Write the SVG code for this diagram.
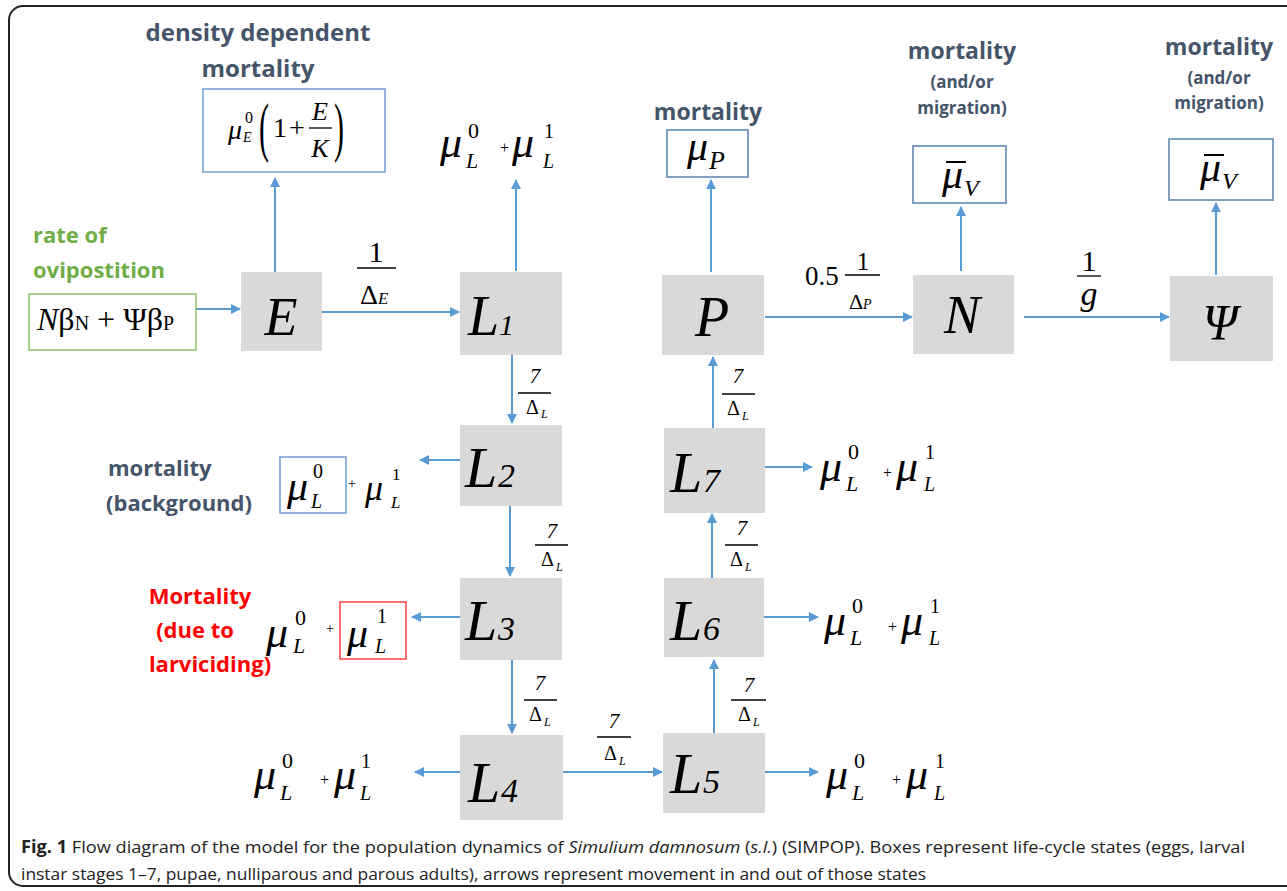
<svg xmlns="http://www.w3.org/2000/svg" width="1287" height="891" viewBox="0 0 1287 891">
<defs>
<marker id="ah" markerWidth="10" markerHeight="10" refX="9" refY="5" orient="auto" markerUnits="userSpaceOnUse">
<path d="M0,0 L10,5 L0,10 Z" fill="#5b9bd5"/>
</marker>
<style>
.box{fill:#d9d9d9}
.conn line{stroke:#5b9bd5;stroke-width:2;marker-end:url(#ah)}
.m{font-family:"Liberation Serif","Times New Roman",serif;fill:#000}
.i{font-style:italic}
.lbl{font-family:"Open Sans","Noto Sans",sans-serif;font-weight:bold;fill:#44546a}
.frac{stroke:#000;stroke-width:1.3}
.bb{fill:#fff;stroke:#7f9fc4;stroke-width:2}
</style>
</defs>
<rect width="1287" height="891" fill="#fff"/>
<rect x="9" y="6" width="1310" height="880" rx="14" fill="none" stroke="#222" stroke-width="2"/>

<!-- connectors -->
<g id="connectors" class="conn">
<line x1="196" y1="309" x2="240" y2="309"/>
<line x1="322" y1="312" x2="459" y2="312"/>
<line x1="275" y1="272" x2="275" y2="178"/>
<line x1="516" y1="271" x2="516" y2="180"/>
<line x1="512" y1="355" x2="512" y2="423"/>
<line x1="460" y1="460" x2="420" y2="460"/>
<line x1="510" y1="506" x2="510" y2="576"/>
<line x1="460" y1="617" x2="412" y2="617"/>
<line x1="512" y1="660" x2="512" y2="733"/>
<line x1="460" y1="772" x2="415" y2="772"/>
<line x1="563" y1="772" x2="662" y2="772"/>
<line x1="714" y1="733" x2="714" y2="660"/>
<line x1="765" y1="772" x2="818" y2="772"/>
<line x1="712" y1="578" x2="712" y2="514"/>
<line x1="764" y1="617" x2="818" y2="617"/>
<line x1="765" y1="467" x2="812" y2="467"/>
<line x1="713" y1="428" x2="713" y2="357"/>
<line x1="711" y1="272" x2="711" y2="180"/>
<line x1="765" y1="317" x2="912" y2="317"/>
<line x1="961" y1="271" x2="961" y2="207"/>
<line x1="1024" y1="317" x2="1169" y2="317"/>
<line x1="1216" y1="275" x2="1216" y2="203"/>
</g>

<!-- connector labels -->
<g id="labels">
<g id="lbl-E-L1">
<text class="m" x="376" y="262" font-size="30" text-anchor="middle">1</text>
<line class="frac" x1="357" y1="268" x2="396" y2="268"/>
<text class="m" x="360" y="304" font-size="28">Δ</text>
<text class="m i" x="378" y="304" font-size="17">E</text>
</g>
<g id="lbl-L1-L2">
<text class="m i" x="535" y="383" font-size="21" text-anchor="middle">7</text>
<line class="frac" x1="518" y1="393" x2="551" y2="393"/>
<text class="m" x="526" y="414" font-size="20">Δ</text>
<text class="m i" x="541" y="418" font-size="12">L</text>
</g>
<g id="lbl-L2-L3">
<text class="m i" x="552" y="538" font-size="21" text-anchor="middle">7</text>
<line class="frac" x1="535" y1="545" x2="568" y2="545"/>
<text class="m" x="541" y="566" font-size="20">Δ</text>
<text class="m i" x="556" y="571" font-size="12">L</text>
</g>
<g id="lbl-L3-L4">
<text class="m i" x="540" y="690" font-size="21" text-anchor="middle">7</text>
<line class="frac" x1="524" y1="700" x2="557" y2="700"/>
<text class="m" x="529" y="721" font-size="20">Δ</text>
<text class="m i" x="544" y="726" font-size="12">L</text>
</g>
<g id="lbl-L4-L5">
<text class="m i" x="614" y="728" font-size="21" text-anchor="middle">7</text>
<line class="frac" x1="597" y1="737" x2="631" y2="737"/>
<text class="m" x="604" y="760" font-size="20">Δ</text>
<text class="m i" x="619" y="765" font-size="12">L</text>
</g>
<g id="lbl-L5-L6">
<text class="m i" x="749" y="692" font-size="21" text-anchor="middle">7</text>
<line class="frac" x1="731" y1="700" x2="766" y2="700"/>
<text class="m" x="738" y="721" font-size="20">Δ</text>
<text class="m i" x="753" y="726" font-size="12">L</text>
</g>
<g id="lbl-L6-L7">
<text class="m i" x="742" y="535" font-size="21" text-anchor="middle">7</text>
<line class="frac" x1="725" y1="545" x2="758" y2="545"/>
<text class="m" x="730" y="566" font-size="20">Δ</text>
<text class="m i" x="745" y="571" font-size="12">L</text>
</g>
<g id="lbl-L7-P">
<text class="m i" x="738" y="383" font-size="21" text-anchor="middle">7</text>
<line class="frac" x1="722" y1="394" x2="755" y2="394"/>
<text class="m" x="727" y="415" font-size="20">Δ</text>
<text class="m i" x="742" y="420" font-size="12">L</text>
</g>
<g id="lbl-P-N">
<text class="m" x="805" y="285" font-size="27">0.5</text>
<text class="m" x="863" y="270" font-size="25" text-anchor="middle">1</text>
<line class="frac" x1="845" y1="275" x2="880" y2="275"/>
<text class="m" x="849" y="309" font-size="22">Δ</text>
<text class="m i" x="863" y="309" font-size="14">P</text>
</g>
<g id="lbl-N-Psi">
<text class="m" x="1089" y="271" font-size="30" text-anchor="middle">1</text>
<line class="frac" x1="1077" y1="276" x2="1101" y2="276"/>
<text class="m i" x="1089" y="305" font-size="34" text-anchor="middle">g</text>
</g>
</g>

<!-- state nodes -->
<g id="node-E"><rect class="box" x="241" y="272" width="81" height="79"/><text class="m i" x="281" y="335" font-size="54" text-anchor="middle">E</text></g>
<g id="node-L1"><rect class="box" x="460" y="272" width="102" height="83"/><text class="m i" x="468" y="335" font-size="56">L</text><text class="m i" x="499" y="335" font-size="30">1</text></g>
<g id="node-P"><rect class="box" x="662" y="275" width="102" height="80"/><text class="m i" x="712" y="336" font-size="56" text-anchor="middle">P</text></g>
<g id="node-N"><rect class="box" x="913" y="275" width="101" height="79"/><text class="m i" x="962" y="333" font-size="54" text-anchor="middle">N</text></g>
<g id="node-Psi"><rect class="box" x="1170" y="276" width="103" height="85"/><text class="m i" x="1220" y="339" font-size="50" text-anchor="middle">Ψ</text></g>
<g id="node-L2"><rect class="box" x="460" y="425" width="102" height="81"/><text class="m i" x="465" y="487" font-size="58">L</text><text class="m i" x="498" y="487" font-size="34">2</text></g>
<g id="node-L3"><rect class="box" x="460" y="578" width="102" height="82"/><text class="m i" x="465" y="640" font-size="58">L</text><text class="m i" x="498" y="640" font-size="34">3</text></g>
<g id="node-L4"><rect class="box" x="460" y="735" width="103" height="85"/><text class="m i" x="468" y="802" font-size="58">L</text><text class="m i" x="501" y="802" font-size="34">4</text></g>
<g id="node-L5"><rect class="box" x="663" y="733" width="102" height="80"/><text class="m i" x="670" y="793" font-size="58">L</text><text class="m i" x="703" y="793" font-size="34">5</text></g>
<g id="node-L6"><rect class="box" x="664" y="578" width="100" height="79"/><text class="m i" x="670" y="640" font-size="58">L</text><text class="m i" x="703" y="640" font-size="34">6</text></g>
<g id="node-L7"><rect class="box" x="664" y="428" width="101" height="85"/><text class="m i" x="670" y="492" font-size="58">L</text><text class="m i" x="703" y="492" font-size="34">7</text></g>

<!-- ovipostition -->
<g id="node-ovip">
<text font-family="'Open Sans','Noto Sans',sans-serif" font-weight="bold" fill="#70ad47" font-size="22" x="33" y="243">rate of</text>
<text font-family="'Open Sans','Noto Sans',sans-serif" font-weight="bold" fill="#70ad47" font-size="22" x="33" y="278">ovipostition</text>
<rect x="29" y="294" width="167" height="56" fill="#fff" stroke="#8cc06a" stroke-width="1.5"/>
<text class="m" x="37" y="330" font-size="32"><tspan font-style="italic">N</tspan>β<tspan font-size="20">N</tspan> + Ψβ<tspan font-size="20">P</tspan></text>
</g>

<!-- density dependent mortality -->
<g id="node-density">
<text class="lbl" x="258" y="41" font-size="24" text-anchor="middle">density dependent</text>
<text class="lbl" x="258" y="77" font-size="24" text-anchor="middle">mortality</text>
<rect x="203" y="89" width="182" height="83" fill="#fff" stroke="#6d9fd6" stroke-width="1.5"/>
<text class="m i" x="228" y="139" font-size="28">μ</text>
<text class="m" x="245" y="123" font-size="16">0</text>
<text class="m i" x="243" y="142" font-size="14">E</text>
<text class="m" x="0" y="0" font-size="30" transform="translate(259,149) scale(1,2.2)">(</text>
<text class="m" x="273" y="137" font-size="28">1</text>
<text class="m" x="289" y="137" font-size="28">+</text>
<text class="m i" x="320" y="120" font-size="26" text-anchor="middle">E</text>
<line class="frac" x1="309" y1="128" x2="332" y2="128"/>
<text class="m i" x="320" y="157" font-size="26" text-anchor="middle">K</text>
<text class="m" x="0" y="0" font-size="30" transform="translate(334,149) scale(1,2.2)">)</text>
</g>

<!-- L1 top mortality -->
<g id="mort-L1" class="m">
<text class="i" x="440" y="157" font-size="44">μ</text>
<text x="468" y="138" font-size="22">0</text>
<text class="i" x="466" y="168" font-size="22">L</text>
<text x="500" y="153" font-size="16">+</text>
<text class="i" x="512" y="157" font-size="44">μ</text>
<text x="544" y="138" font-size="20">1</text>
<text class="i" x="543" y="168" font-size="20">L</text>
</g>

<!-- mu_P -->
<g id="node-muP">
<text class="lbl" x="708" y="120" font-size="23" text-anchor="middle">mortality</text>
<rect class="bb" x="667" y="130" width="81" height="47"/>
<text class="m i" x="687" y="160" font-size="42">μ</text>
<text class="m i" x="709" y="169" font-size="26">P</text>
</g>

<!-- N mortality -->
<g id="node-muV-N">
<text class="lbl" x="962" y="59" font-size="23" text-anchor="middle">mortality</text>
<text class="lbl" x="962" y="88" font-size="17" text-anchor="middle">(and/or</text>
<text class="lbl" x="962" y="114" font-size="17" text-anchor="middle">migration)</text>
<rect class="bb" x="913" y="146" width="93" height="57"/>
<line x1="946" y1="162" x2="966" y2="162" stroke="#000" stroke-width="2"/>
<text class="m i" x="942" y="188" font-size="42">μ</text>
<text class="m i" x="964" y="196" font-size="24">V</text>
</g>

<!-- Psi mortality -->
<g id="node-muV-Psi">
<text class="lbl" x="1219" y="55" font-size="23" text-anchor="middle">mortality</text>
<text class="lbl" x="1219" y="84" font-size="17" text-anchor="middle">(and/or</text>
<text class="lbl" x="1219" y="109" font-size="17" text-anchor="middle">migration)</text>
<rect class="bb" x="1169" y="139" width="104" height="61"/>
<line x1="1204" y1="155" x2="1224" y2="155" stroke="#000" stroke-width="2"/>
<text class="m i" x="1200" y="181" font-size="42">μ</text>
<text class="m i" x="1222" y="189" font-size="24">V</text>
</g>

<!-- L2 background mortality -->
<g id="mort-L2">
<text class="lbl" x="108" y="476" font-size="22">mortality</text>
<text class="lbl" x="106" y="511" font-size="22">(background)</text>
<rect x="280" y="457" width="66" height="56" fill="#fff" stroke="#6d9fd6" stroke-width="1.5"/>
<g class="m">
<text class="i" x="287" y="500" font-size="42">μ</text>
<text x="313" y="478" font-size="20">0</text>
<text class="i" x="311" y="508" font-size="20">L</text>
<text x="348" y="488" font-size="14">+</text>
<text class="i" x="365" y="500" font-size="36">μ</text>
<text x="392" y="480" font-size="17">1</text>
<text class="i" x="391" y="508" font-size="17">L</text>
</g>
</g>

<!-- L3 larviciding mortality -->
<g id="mort-L3">
<text font-family="'Open Sans','Noto Sans',sans-serif" font-weight="bold" fill="#ff0000" font-size="22" x="200" y="604" text-anchor="middle">Mortality</text>
<text font-family="'Open Sans','Noto Sans',sans-serif" font-weight="bold" fill="#ff0000" font-size="22" x="195" y="638" text-anchor="middle">(due to</text>
<text font-family="'Open Sans','Noto Sans',sans-serif" font-weight="bold" fill="#ff0000" font-size="22" x="210" y="672" text-anchor="middle">larviciding)</text>
<rect x="340" y="602" width="66" height="57" fill="#fff" stroke="#ff4040" stroke-width="1.5"/>
<g class="m">
<text class="i" x="266" y="647" font-size="44">μ</text>
<text x="295" y="625" font-size="22">0</text>
<text class="i" x="293" y="653" font-size="22">L</text>
<text x="326" y="633" font-size="14">+</text>
<text class="i" x="347" y="647" font-size="42">μ</text>
<text x="377" y="623" font-size="20">1</text>
<text class="i" x="375" y="653" font-size="20">L</text>
</g>
</g>

<!-- L4 left mortality -->
<g id="mort-L4" class="m">
<text class="i" x="254" y="789" font-size="44">μ</text>
<text x="282" y="768" font-size="22">0</text>
<text class="i" x="280" y="800" font-size="22">L</text>
<text x="320" y="785" font-size="16">+</text>
<text class="i" x="334" y="789" font-size="44">μ</text>
<text x="361" y="768" font-size="20">1</text>
<text class="i" x="360" y="800" font-size="20">L</text>
</g>

<!-- L5 right mortality -->
<g id="mort-L5" class="m">
<text class="i" x="826" y="789" font-size="44">μ</text>
<text x="854" y="768" font-size="22">0</text>
<text class="i" x="852" y="800" font-size="22">L</text>
<text x="892" y="785" font-size="16">+</text>
<text class="i" x="906" y="789" font-size="44">μ</text>
<text x="935" y="768" font-size="20">1</text>
<text class="i" x="934" y="800" font-size="20">L</text>
</g>

<!-- L6 right mortality -->
<g id="mort-L6" class="m">
<text class="i" x="824" y="635" font-size="44">μ</text>
<text x="852" y="613" font-size="22">0</text>
<text class="i" x="850" y="645" font-size="22">L</text>
<text x="888" y="632" font-size="16">+</text>
<text class="i" x="901" y="635" font-size="44">μ</text>
<text x="930" y="613" font-size="20">1</text>
<text class="i" x="929" y="645" font-size="20">L</text>
</g>

<!-- L7 right mortality -->
<g id="mort-L7" class="m">
<text class="i" x="820" y="481" font-size="44">μ</text>
<text x="848" y="459" font-size="22">0</text>
<text class="i" x="846" y="491" font-size="22">L</text>
<text x="883" y="478" font-size="16">+</text>
<text class="i" x="896" y="481" font-size="44">μ</text>
<text x="925" y="459" font-size="20">1</text>
<text class="i" x="924" y="491" font-size="20">L</text>
</g>

<!-- caption -->
<g id="caption" font-family="'Open Sans','Noto Sans',sans-serif" font-size="17" fill="#222">
<text x="21" y="853" textLength="1224" lengthAdjust="spacingAndGlyphs"><tspan font-weight="bold">Fig. 1</tspan> Flow diagram of the model for the population dynamics of <tspan font-style="italic">Simulium damnosum</tspan> (<tspan font-style="italic">s.l.</tspan>) (SIMPOP). Boxes represent life-cycle states (eggs, larval</text>
<text x="21" y="880" textLength="905" lengthAdjust="spacingAndGlyphs">instar stages 1–7, pupae, nulliparous and parous adults), arrows represent movement in and out of those states</text>
</g>
</svg>
